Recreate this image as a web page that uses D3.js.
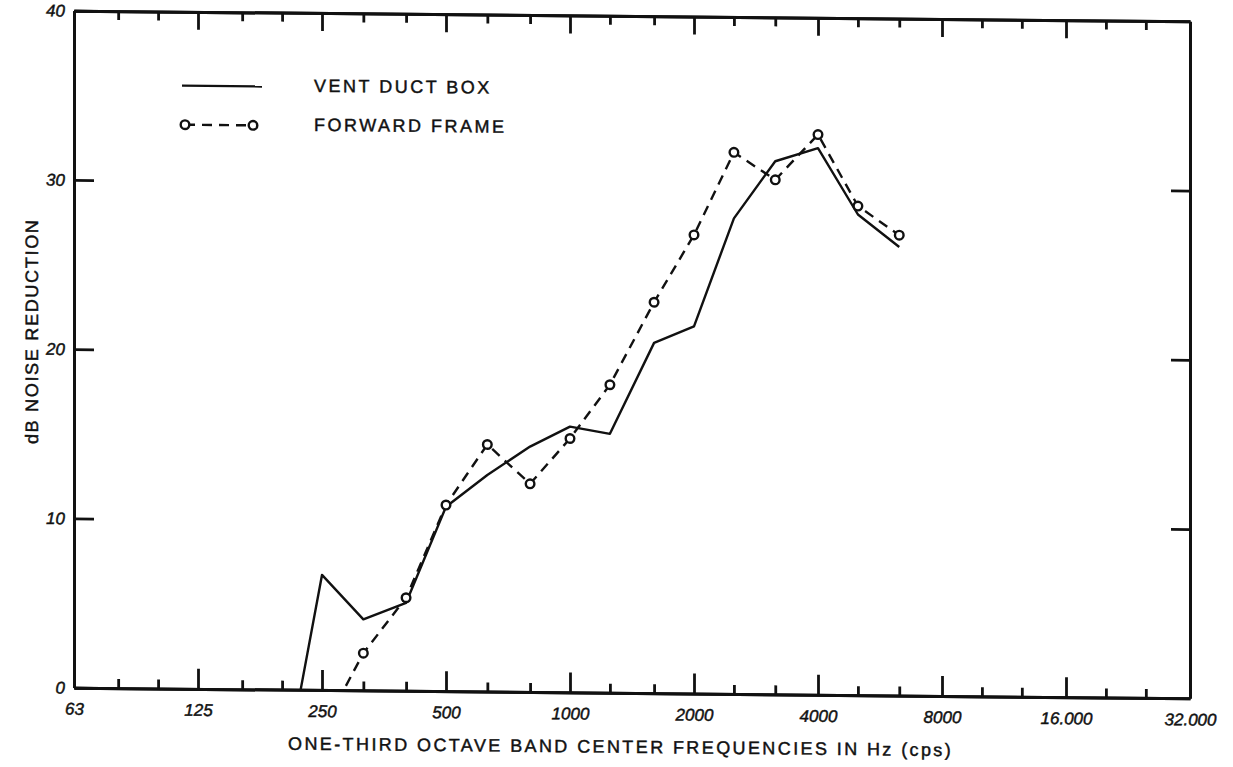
<!DOCTYPE html>
<html>
<head>
<meta charset="utf-8">
<script src="https://cdn.jsdelivr.net/npm/d3@7"></script>
<style>
  body { margin: 0; background: #fff; }
  text { fill: #111; stroke: #111; stroke-width: 0.45px; }
</style>
</head>
<body>
<div id="chart"></div>
<script>
// one-third octave band centres (Hz) and dB readings
const ventBands = [200, 250, 315, 400, 500, 630, 800, 1000, 1250, 1600, 2000, 2500, 3150, 4000, 5000, 6300];
const ventDuctBox = [-5.9, 6.8, 4.2, 5.2, 10.9, 12.8, 14.5, 15.7, 15.3, 20.7, 21.7, 28.1, 31.5, 32.3, 28.4, 26.5];

const frameBands = [250, 315, 400, 500, 630, 800, 1000, 1250, 1600, 2000, 2500, 3150, 4000, 5000, 6300];
const forwardFrame = [-2.4, 2.2, 5.5, 11.0, 14.6, 12.3, 15.0, 18.2, 23.1, 27.1, 32.0, 30.4, 33.1, 28.9, 27.2];

const octaveTicks = [62.5, 125, 250, 500, 1000, 2000, 4000, 8000, 16000, 32000];
const octaveLabels = ["63", "125", "250", "500", "1000", "2000", "4000", "8000", "16.000", "32.000"];
const thirdTicks = [80, 100, 160, 200, 315, 400, 630, 800, 1250, 1600, 2500, 3150, 5000, 6300, 10000, 12500, 20000, 25000];
const yTicks = [0, 10, 20, 30, 40];

const W = 1233, H = 767;
const frame = { left: 74, right: 1190, top: 16, bottom: 693 };

const svg = d3.select("#chart").append("svg")
    .attr("width", W)
    .attr("height", H);

// the scanned sheet sits slightly askew
const g = svg.append("g")
    .attr("transform", "translate(633,0) skewY(0.55) translate(-633,0)");

const x = d3.scaleLog().base(2)
    .domain([62.5, 32000])
    .range([frame.left, frame.right]);

const y = d3.scaleLinear()
    .domain([0, 40])
    .range([frame.bottom, frame.top]);

const axisFont = "italic 17px 'Liberation Sans', Arial, sans-serif";
const labelFont = "18px 'Liberation Sans', Arial, sans-serif";

function styleAxis(sel) {
    sel.select(".domain").attr("stroke", "#111").attr("stroke-width", 3);
    sel.selectAll(".tick line").attr("stroke", "#111").attr("stroke-width", 2.8);
    sel.selectAll(".tick text").style("font", axisFont);
}

// bottom axis: octave labels, ticks pointing up
g.append("g")
    .attr("transform", `translate(0,${frame.bottom})`)
    .call(d3.axisBottom(x).tickValues(octaveTicks).tickSizeInner(-20).tickSizeOuter(0)
        .tickPadding(15).tickFormat((d, i) => octaveLabels[i]))
    .call(styleAxis);

g.append("g")
    .attr("transform", `translate(0,${frame.bottom})`)
    .call(d3.axisBottom(x).tickValues(thirdTicks).tickSizeInner(-9).tickSizeOuter(0).tickFormat(""))
    .call(styleAxis);

// top axis, mirror ticks
g.append("g")
    .attr("transform", `translate(0,${frame.top})`)
    .call(d3.axisTop(x).tickValues(octaveTicks.slice(1, -1)).tickSizeInner(-18).tickSizeOuter(0).tickFormat(""))
    .call(styleAxis);

g.append("g")
    .attr("transform", `translate(0,${frame.top})`)
    .call(d3.axisTop(x).tickValues(thirdTicks).tickSizeInner(-9).tickSizeOuter(0).tickFormat(""))
    .call(styleAxis);

// left and right axes
g.append("g")
    .attr("transform", `translate(${frame.left},0)`)
    .call(d3.axisLeft(y).tickValues(yTicks).tickSizeInner(-20).tickSizeOuter(0).tickPadding(9))
    .call(styleAxis);

g.append("g")
    .attr("transform", `translate(${frame.right},0)`)
    .call(d3.axisRight(y).tickValues(yTicks.slice(1, -1)).tickSizeInner(-19).tickSizeOuter(0).tickFormat(""))
    .call(styleAxis);

// axis titles
g.append("text")
    .attr("x", 288)
    .attr("y", 747)
    .attr("dominant-baseline", "central")
    .style("font", labelFont)
    .style("letter-spacing", "2.4px")
    .text("ONE-THIRD OCTAVE BAND CENTER FREQUENCIES IN Hz (cps)");

g.append("text")
    .attr("transform", "translate(32,337) rotate(-90)")
    .attr("text-anchor", "middle")
    .attr("dominant-baseline", "central")
    .style("font", labelFont)
    .style("letter-spacing", "1.7px")
    .text("dB NOISE REDUCTION");

// curves, clipped to the frame
g.append("clipPath").attr("id", "plot-clip")
    .append("rect")
    .attr("x", frame.left).attr("y", frame.top)
    .attr("width", frame.right - frame.left).attr("height", frame.bottom - frame.top);

const plot = g.append("g").attr("clip-path", "url(#plot-clip)");

const line = d3.line()
    .x(d => x(d[0]))
    .y(d => y(d[1]));

const ventData = ventBands.map((f, i) => [f, ventDuctBox[i]]);
const frameData = frameBands.map((f, i) => [f, forwardFrame[i]]);

plot.append("path")
    .datum(ventData)
    .attr("fill", "none")
    .attr("stroke", "#111")
    .attr("stroke-width", 2.4)
    .attr("stroke-linejoin", "round")
    .attr("d", line);

plot.append("path")
    .datum(frameData)
    .attr("fill", "none")
    .attr("stroke", "#111")
    .attr("stroke-width", 2.4)
    .attr("stroke-dasharray", "10,7")
    .attr("d", line);

plot.selectAll(".pt")
    .data(frameData)
    .join("circle")
    .attr("class", "pt")
    .attr("cx", d => x(d[0]))
    .attr("cy", d => y(d[1]))
    .attr("r", 4.3)
    .attr("fill", "#fff")
    .attr("stroke", "#111")
    .attr("stroke-width", 2.4);

// legend
const legend = g.append("g");

legend.append("line")
    .attr("x1", 182).attr("x2", 262)
    .attr("y1", 90).attr("y2", 90)
    .attr("stroke", "#111").attr("stroke-width", 2.4);

legend.append("line")
    .attr("x1", 185).attr("x2", 253)
    .attr("y1", 129).attr("y2", 129)
    .attr("stroke", "#111").attr("stroke-width", 2.4)
    .attr("stroke-dasharray", "10,7");

legend.selectAll(".lg-pt")
    .data([185, 253])
    .join("circle")
    .attr("class", "lg-pt")
    .attr("cx", d => d)
    .attr("cy", 129)
    .attr("r", 4.3)
    .attr("fill", "#fff")
    .attr("stroke", "#111")
    .attr("stroke-width", 2.4);

legend.selectAll(".lg-text")
    .data(["VENT DUCT BOX", "FORWARD FRAME"])
    .join("text")
    .attr("class", "lg-text")
    .attr("x", 314)
    .attr("y", (d, i) => 89 + i * 39)
    .attr("dominant-baseline", "central")
    .style("font", labelFont)
    .style("letter-spacing", "2.5px")
    .text(d => d);
</script>
</body>
</html>
